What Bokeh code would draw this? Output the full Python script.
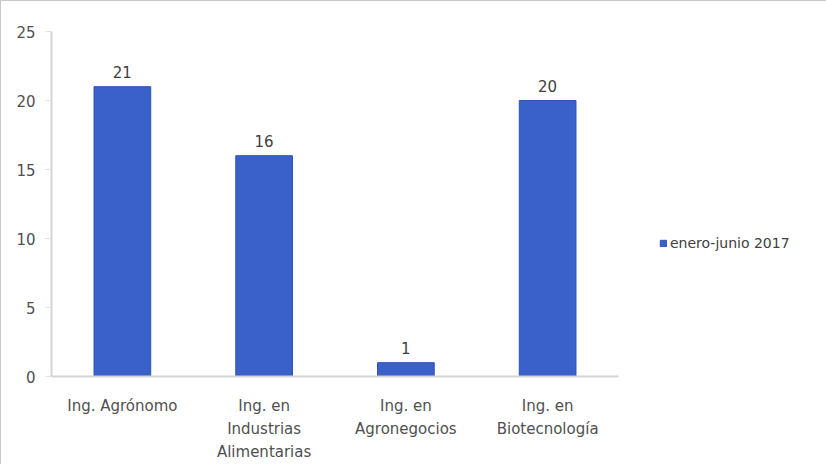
from bokeh.plotting import figure
from bokeh.models import ColumnDataSource, FactorRange, Range1d, Legend, LegendItem, LabelSet, FixedTicker
from bokeh.core.properties import value
from bokeh.embed import file_html
from bokeh.resources import INLINE

categories = ["Ing. Agrónomo", "Ing. en\nIndustrias\nAlimentarias", "Ing. en\nAgronegocios", "Ing. en\nBiotecnología"]
values = [21, 16, 1, 20]
series_name = "enero-junio 2017"
y_ticks = [0, 5, 10, 15, 20, 25]

FONT = "DejaVu Sans"
src = ColumnDataSource(dict(cat=categories, val=values, lab=[str(v) for v in values]))

p = figure(frame_width=567, frame_height=345, x_range=FactorRange(factors=categories),
           y_range=Range1d(0, 25), output_backend="svg", toolbar_location=None,
           min_border_left=50, min_border_top=30, min_border_bottom=75, min_border_right=0)
p.styles = {"border": "1px solid #c8c8c8"}
p.outline_line_color = None
p.xgrid.grid_line_color = None
p.ygrid.grid_line_color = None

r = p.vbar(x="cat", top="val", width=0.4, source=src, fill_color="#3a60c9",
           line_color="#2d52b8", line_width=1)

labels = LabelSet(x="cat", y="val", text="lab", source=src, text_align="center",
                  text_baseline="bottom", y_offset=9, text_font=value(FONT), text_font_size="15px",
                  text_color="#404040")
p.add_layout(labels)

p.yaxis.ticker = FixedTicker(ticks=y_ticks)
for ax in (p.xaxis, p.yaxis):
    ax.axis_line_color = "#d4d4d4"
    ax.axis_line_width = 2
    ax.major_label_text_font = FONT
    ax.major_label_text_font_size = "15px"
    ax.major_label_text_color = "#505050"
    ax.minor_tick_line_color = None
p.yaxis.major_tick_out = 6
p.yaxis.major_tick_in = 0
p.yaxis.major_tick_line_color = "#e0e0e0"
p.yaxis.major_label_standoff = 10
p.xaxis.major_tick_line_color = None
p.xaxis.major_label_standoff = 14
p.xaxis.major_label_text_line_height = 1.3

legend = Legend(items=[LegendItem(label=series_name, renderers=[r])],
                location=(41, 125), border_line_color=None, background_fill_alpha=0,
                label_text_font=FONT, label_text_font_size="14px", label_text_color="#404040",
                glyph_width=8, glyph_height=8, label_standoff=3, padding=0, margin=0)
p.add_layout(legend, "right")

open("out.html", "w").write(file_html(p, INLINE))
